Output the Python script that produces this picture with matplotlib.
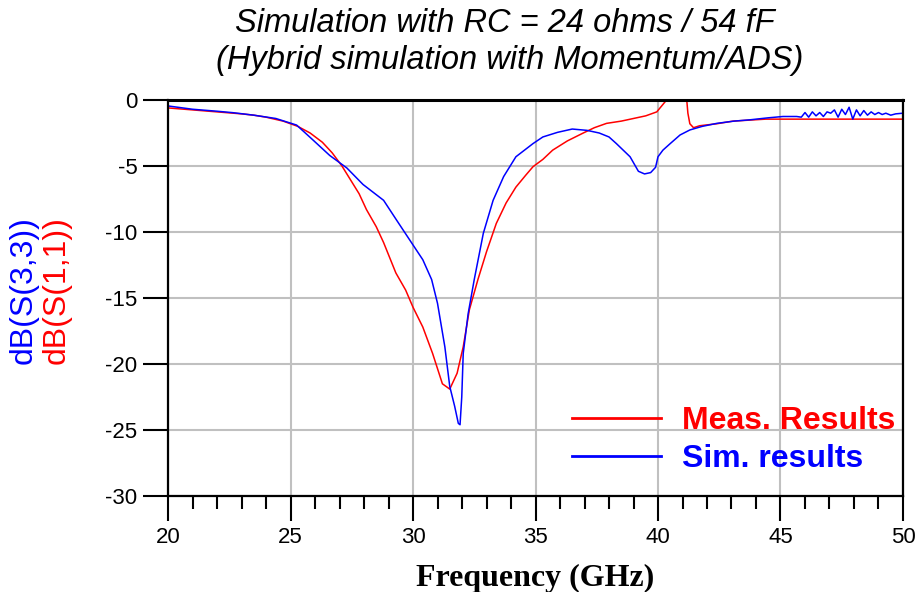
import matplotlib
matplotlib.use("Agg")
import matplotlib.pyplot as plt
from matplotlib.ticker import MultipleLocator

plt.rcParams['axes.unicode_minus'] = False
plt.rcParams['font.family'] = ['Liberation Sans', 'DejaVu Sans']

# measured S(1,1)
meas_f = [20, 21, 22, 23, 23.5, 24, 24.7, 25.3, 25.8, 26.3, 26.7, 27.1, 27.4, 27.8,
          28.1, 28.5, 28.8, 29.3, 29.7, 30.0, 30.4, 30.8, 31.2, 31.5, 31.8, 32.05,
          32.3, 32.65, 33.0, 33.4, 33.8, 34.2, 34.6, 34.9, 35.3, 35.7, 36.3, 36.95,
          37.4, 37.9, 38.5, 39.0, 39.5, 39.95, 40.35, 40.7, 41.0, 41.15, 41.22, 41.3,
          41.45, 41.7, 42.4, 43.06, 44.4, 45, 50]
meas_db = [-0.6, -0.75, -0.9, -1.05, -1.15, -1.3, -1.6, -2.0, -2.5, -3.2, -4.0, -5.0,
           -5.9, -7.1, -8.3, -9.6, -10.8, -13.1, -14.4, -15.7, -17.2, -19.2, -21.5,
           -21.9, -20.7, -18.7, -15.9, -13.6, -11.5, -9.35, -7.8, -6.6, -5.7, -5.05,
           -4.5, -3.8, -3.1, -2.5, -2.1, -1.77, -1.6, -1.4, -1.2, -0.9, 0.0, 0.6, 0.9,
           0.5, -1.0, -1.8, -2.1, -1.95, -1.8, -1.6, -1.45, -1.45, -1.45]

# simulated S(3,3)
sim_f = [20, 21, 22, 22.65, 23.5, 24.4, 25.25, 25.9, 26.6, 27.3, 27.96, 28.8, 29.33,
         29.9, 30.4, 30.76, 31.0, 31.3, 31.5, 31.7, 31.85, 31.92, 31.99, 32.05, 32.25,
         32.5, 32.87, 33.27, 33.7, 34.2, 34.9, 35.3, 35.9, 36.5, 37.1, 37.6, 38.0,
         38.3, 38.86, 39.2, 39.45, 39.7, 39.9, 40.0, 40.2, 40.5, 40.9, 41.3, 41.8,
         42.4, 43.1, 43.76, 44.5, 45.1, 45.66,
         45.85, 46.0, 46.15, 46.3, 46.45, 46.6, 46.75, 46.9, 47.05, 47.2, 47.35, 47.5,
         47.65, 47.8, 47.95, 48.1, 48.25, 48.4, 48.55, 48.7, 48.85, 49.0, 49.15, 49.3,
         49.5, 49.7, 50]
sim_db = [-0.45, -0.7, -0.85, -0.96, -1.15, -1.4, -1.9, -3.0, -4.2, -5.15, -6.4, -7.6,
          -9.1, -10.7, -12.1, -13.6, -15.4, -18.7, -21.7, -23.2, -24.5, -24.6, -22.5,
          -19.2, -16.2, -13.6, -10.1, -7.6, -5.8, -4.3, -3.3, -2.8, -2.45, -2.2, -2.3,
          -2.5, -2.8, -3.3, -4.3, -5.4, -5.6, -5.5, -5.1, -4.3, -3.8, -3.3, -2.65,
          -2.27, -2.0, -1.77, -1.6, -1.5, -1.35, -1.25, -1.25,
          -1.3, -0.95, -1.3, -0.9, -1.2, -0.95, -1.25, -0.9, -1.0, -0.75, -1.3, -0.7,
          -1.1, -0.55, -1.45, -0.75, -1.2, -0.8, -1.15, -0.9, -1.1, -0.95, -1.1, -1.0,
          -1.15, -1.05, -1.0]

x_ticks = [20, 25, 30, 35, 40, 45, 50]
y_ticks = [0, -5, -10, -15, -20, -25, -30]

fig = plt.figure(figsize=(9.2, 5.92), dpi=100)
ax = fig.add_axes([168 / 920, 1 - 496 / 592, 735 / 920, 396 / 592])

ax.plot(meas_f, meas_db, color='#ff0000', lw=1.1, label='Meas. Results')
ax.plot(sim_f, sim_db, color='#0000ff', lw=1.1, label='Sim. results')

ax.set_xlim(20, 50)
ax.set_ylim(-30, 0)
ax.set_xticks(x_ticks)
ax.set_yticks(y_ticks)
ax.xaxis.set_minor_locator(MultipleLocator(1))
ax.grid(True, which='major', color='#c0c0c0', lw=1.5)
ax.set_axisbelow(True)

for s in ax.spines.values():
    s.set_color('black')
    s.set_linewidth(1.6)
ax.spines['top'].set_linewidth(2.2)

ax.tick_params(axis='both', which='major', direction='out', length=18, width=1.5,
               labelsize=16, pad=4)
ax.tick_params(axis='x', which='minor', direction='out', length=9, width=1.5)

ax.set_xlabel('Frequency (GHz)', family='Liberation Serif', fontweight='bold',
              fontsize=23, labelpad=12)

fig.text(24 / 920, 1 - 290 / 592, 'dB(S(3,3))', color='#0000ff', rotation=90,
         ha='center', va='center', fontsize=23)
fig.text(57 / 920, 1 - 290 / 592, 'dB(S(1,1))', color='#ff0000', rotation=90,
         ha='center', va='center', fontsize=23)

fig.text(505 / 920, 1 - 23 / 592, 'Simulation with RC = 24 ohms / 54 fF',
         ha='center', va='center', fontsize=23.5, style='italic')
fig.text(510 / 920, 1 - 61 / 592, '(Hybrid simulation with Momentum/ADS)',
         ha='center', va='center', fontsize=23.5, style='italic')

leg = ax.legend(loc='upper left', bbox_to_anchor=((572 - 168) / 735, (496 - 406) / 396),
                frameon=False, borderpad=0, borderaxespad=0, handlelength=2.8,
                handletextpad=0.65, labelspacing=0.26,
                prop={'weight': 'bold', 'size': 23})
for line, text in zip(leg.get_lines(), leg.get_texts()):
    text.set_color(line.get_color())
    line.set_linewidth(2)

fig.savefig('out.png', dpi=100)
